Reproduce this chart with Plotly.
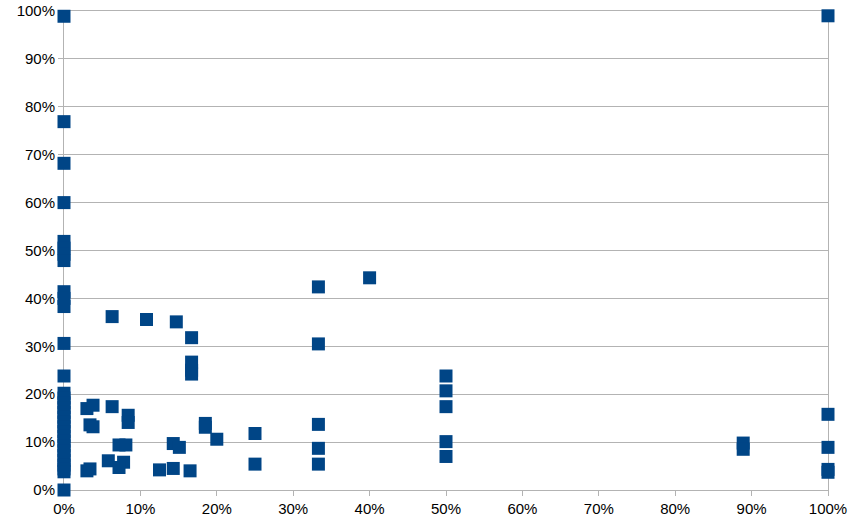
import plotly.graph_objects as go

# x share (%) and y share (%)
x_zero_y = [98.9, 76.9, 68.2, 60.0, 51.9, 50.5, 49.2, 47.9, 41.4, 40.0, 38.3, 30.6, 23.8,
            20.2, 19.2, 18.2, 17.2, 16.2, 15.2, 14.2, 13.2, 12.2, 11.2, 10.2, 9.2, 8.2,
            7.2, 6.2, 5.2, 4.4, 3.8, 0.0]

other_x = [6.3, 10.8, 14.7, 16.7, 16.7, 16.7, 16.7,
           3.0, 3.8, 6.3, 8.4, 8.4, 3.4, 3.8, 18.5, 18.5, 20.0, 25.0, 25.0,
           7.2, 8.1, 14.3, 15.1, 5.8, 7.8, 7.2, 3.0, 3.4, 12.5, 14.3, 16.5,
           33.3, 40.0, 33.3, 33.3, 33.3, 33.3,
           50.0, 50.0, 50.0, 50.0, 50.0,
           88.9, 88.9,
           100.0, 100.0, 100.0, 100.0, 100.0]
other_y = [36.2, 35.6, 35.1, 31.8, 26.7, 25.0, 24.2,
           17.0, 17.7, 17.4, 15.6, 14.1, 13.6, 13.2, 13.9, 13.1, 10.6, 11.8, 5.4,
           9.4, 9.4, 9.7, 8.9, 6.1, 5.8, 4.7, 4.0, 4.4, 4.2, 4.5, 4.0,
           42.4, 44.3, 30.5, 13.7, 8.7, 5.4,
           23.8, 20.7, 17.4, 10.1, 7.0,
           9.8, 8.5,
           99.0, 15.8, 8.9, 4.3, 3.7]

x_vals = [0.0] * len(x_zero_y) + other_x
y_vals = x_zero_y + other_y

tick_vals = [i / 10 for i in range(11)]
tick_text = [f"{i * 10}%" for i in range(11)]

fig = go.Figure(go.Scatter(
    x=[v / 100 for v in x_vals],
    y=[v / 100 for v in y_vals],
    mode="markers",
    marker=dict(symbol="square", size=13, color="#004586", line=dict(width=0)),
    cliponaxis=False,
    hoverinfo="x+y",
))

axis_common = dict(
    range=[0, 1],
    tickvals=tick_vals,
    ticktext=tick_text,
    showline=True,
    linecolor="#b3b3b3",
    linewidth=1,
    mirror=True,
    ticks="outside",
    ticklen=5,
    tickcolor="#b3b3b3",
    zeroline=False,
    automargin=False,
    layer="below traces",
    tickfont=dict(family="Liberation Sans", size=15, color="#000000"),
)

fig.update_layout(
    width=852,
    height=523,
    margin=dict(l=64, r=24, t=11, b=33),
    plot_bgcolor="white",
    paper_bgcolor="white",
    showlegend=False,
    xaxis=dict(**axis_common, showgrid=False),
    yaxis=dict(**axis_common, showgrid=True, gridcolor="#b3b3b3", gridwidth=1),
)

fig.write_html(
    "out.html",
    config={"displayModeBar": False},
    post_script="document.body.style.margin='0';document.body.style.overflow='hidden';",
)
